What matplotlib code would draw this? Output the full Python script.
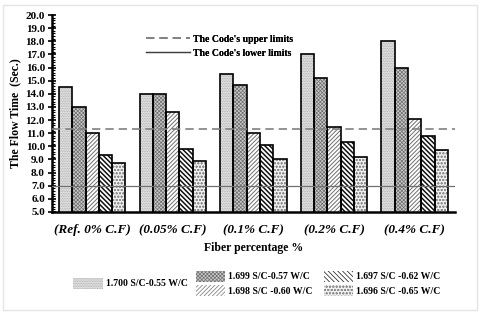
import matplotlib
matplotlib.use("Agg")
import matplotlib.pyplot as plt
import numpy as np
from matplotlib.patches import Patch, Rectangle
from matplotlib.lines import Line2D
from matplotlib.ticker import MultipleLocator

groups = ["(Ref. 0% C.F)", "(0.05% C.F)", "(0.1% C.F)", "(0.2% C.F)", "(0.4% C.F)"]
series_names = ["1.700 S/C-0.55 W/C", "1.699 S/C-0.57 W/C", "1.698 S/C -0.60 W/C",
                "1.697 S/C -0.62 W/C", "1.696 S/C -0.65 W/C"]
values = [
    [14.5, 14.0, 15.5, 17.0, 18.0],
    [13.0, 14.0, 14.7, 15.2, 16.0],
    [11.0, 12.6, 11.0, 11.5, 12.1],
    [9.3, 9.8, 10.1, 10.3, 10.8],
    [8.7, 8.9, 9.0, 9.2, 9.7],
]
upper_limit = 11.3
lower_limit = 7.0

plt.rcParams['font.family'] = ['Liberation Serif', 'DejaVu Serif']
plt.rcParams['font.weight'] = 'bold'

faces = ['#e4e4e4', '#cacaca', 'white', 'white', '#f0f0f0']
hatches = ['.' * 10, 'x' * 9, '/' * 8, '\\' * 7, 'o' * 5]
hcolors = ['#a5a5a5', '#6e6e6e', '#707070', '#111111', '#8e8e8e']
hlw = [0.5, 0.5, 0.7, 1.1, 0.5]

fig = plt.figure(figsize=(4.8, 3.13), dpi=100)
fig.patches.append(Rectangle((0.006, 0.01), 0.988, 0.975, transform=fig.transFigure,
                             fill=False, edgecolor='#e4e4e4', linewidth=1.0))
ax = fig.add_axes([0.108, 0.323, 0.84, 0.629])

x = np.arange(len(groups))
w = 0.165
for i in range(5):
    plt.rcParams['hatch.linewidth'] = hlw[i]
    pos = x + (i - 2) * w
    ax.bar(pos, values[i], w, bottom=0, color=faces[i], hatch=hatches[i],
           edgecolor=hcolors[i], linewidth=0, zorder=2)
    ax.bar(pos, values[i], w, fill=False, edgecolor='black', linewidth=1.2, zorder=3)

ax.axhline(upper_limit, color='#808080', linestyle=(0, (5, 3)), linewidth=1.2, zorder=4)
ax.axhline(lower_limit, color='#707070', linestyle='-', linewidth=0.9, zorder=4)

ax.set_xlim(-0.5, 4.5)
ax.set_ylim(5.0, 20.0)
ax.yaxis.set_minor_locator(MultipleLocator(0.2))
ax.set_yticks(np.arange(5.0, 20.01, 1.0))
ax.set_yticklabels([f"{v:.1f}" for v in np.arange(5.0, 20.01, 1.0)], fontsize=8, fontweight='bold')
ax.tick_params(axis='y', which='major', direction='inout', length=6, width=1.2, pad=2)
ax.tick_params(axis='y', which='minor', direction='in', length=2.5, width=0.8)
ax.set_xticks(x)
ax.set_xticklabels(groups, fontsize=9.5, fontweight='bold', fontstyle='italic')
ax.tick_params(axis='x', length=0, pad=9)
for s in ['top', 'right']:
    ax.spines[s].set_visible(False)
ax.spines['left'].set_linewidth(1.8)
ax.spines['bottom'].set_linewidth(1.8)
ax.set_ylabel("The Flow Time  (Sec.)", fontsize=8.5, fontweight='bold', labelpad=3)
ax.set_xlabel("Fiber percentage %", fontsize=8.5, fontweight='bold', labelpad=4)

lim_handles = [Line2D([], [], color='#808080', linestyle=(0, (5, 3)), linewidth=1.2),
               Line2D([], [], color='#404040', linestyle='-', linewidth=0.9)]
leg0 = ax.legend(lim_handles, ["The Code's upper limits", "The Code's lower limits"],
                 loc='upper left', bbox_to_anchor=(0.225, 0.92), frameon=False,
                 prop={'size': 7, 'weight': 'bold'}, handlelength=4.5, handletextpad=0.3,
                 labelspacing=0.5, borderaxespad=0)
ax.add_artist(leg0)

def handle(i):
    plt.rcParams['hatch.linewidth'] = hlw[i]
    return Patch(facecolor=faces[i], hatch=hatches[i], edgecolor=hcolors[i], linewidth=0)

leg1 = fig.legend([handle(0)], [series_names[0]], loc='center left',
                  bbox_to_anchor=(0.145, 0.095), frameon=False,
                  prop={'size': 7, 'weight': 'bold'}, handlelength=3.0, handleheight=1.4,
                  handletextpad=0.3, borderaxespad=0)
leg2 = fig.legend([handle(1), handle(2), handle(3), handle(4)],
                  [series_names[1], series_names[2], series_names[3], series_names[4]],
                  ncol=2, loc='center left', bbox_to_anchor=(0.4, 0.095), frameon=False,
                  prop={'size': 7, 'weight': 'bold'}, handlelength=3.0, handleheight=1.4,
                  handletextpad=0.3, columnspacing=1.2, labelspacing=0.3, borderaxespad=0)

fig.savefig("out.png", dpi=100)
